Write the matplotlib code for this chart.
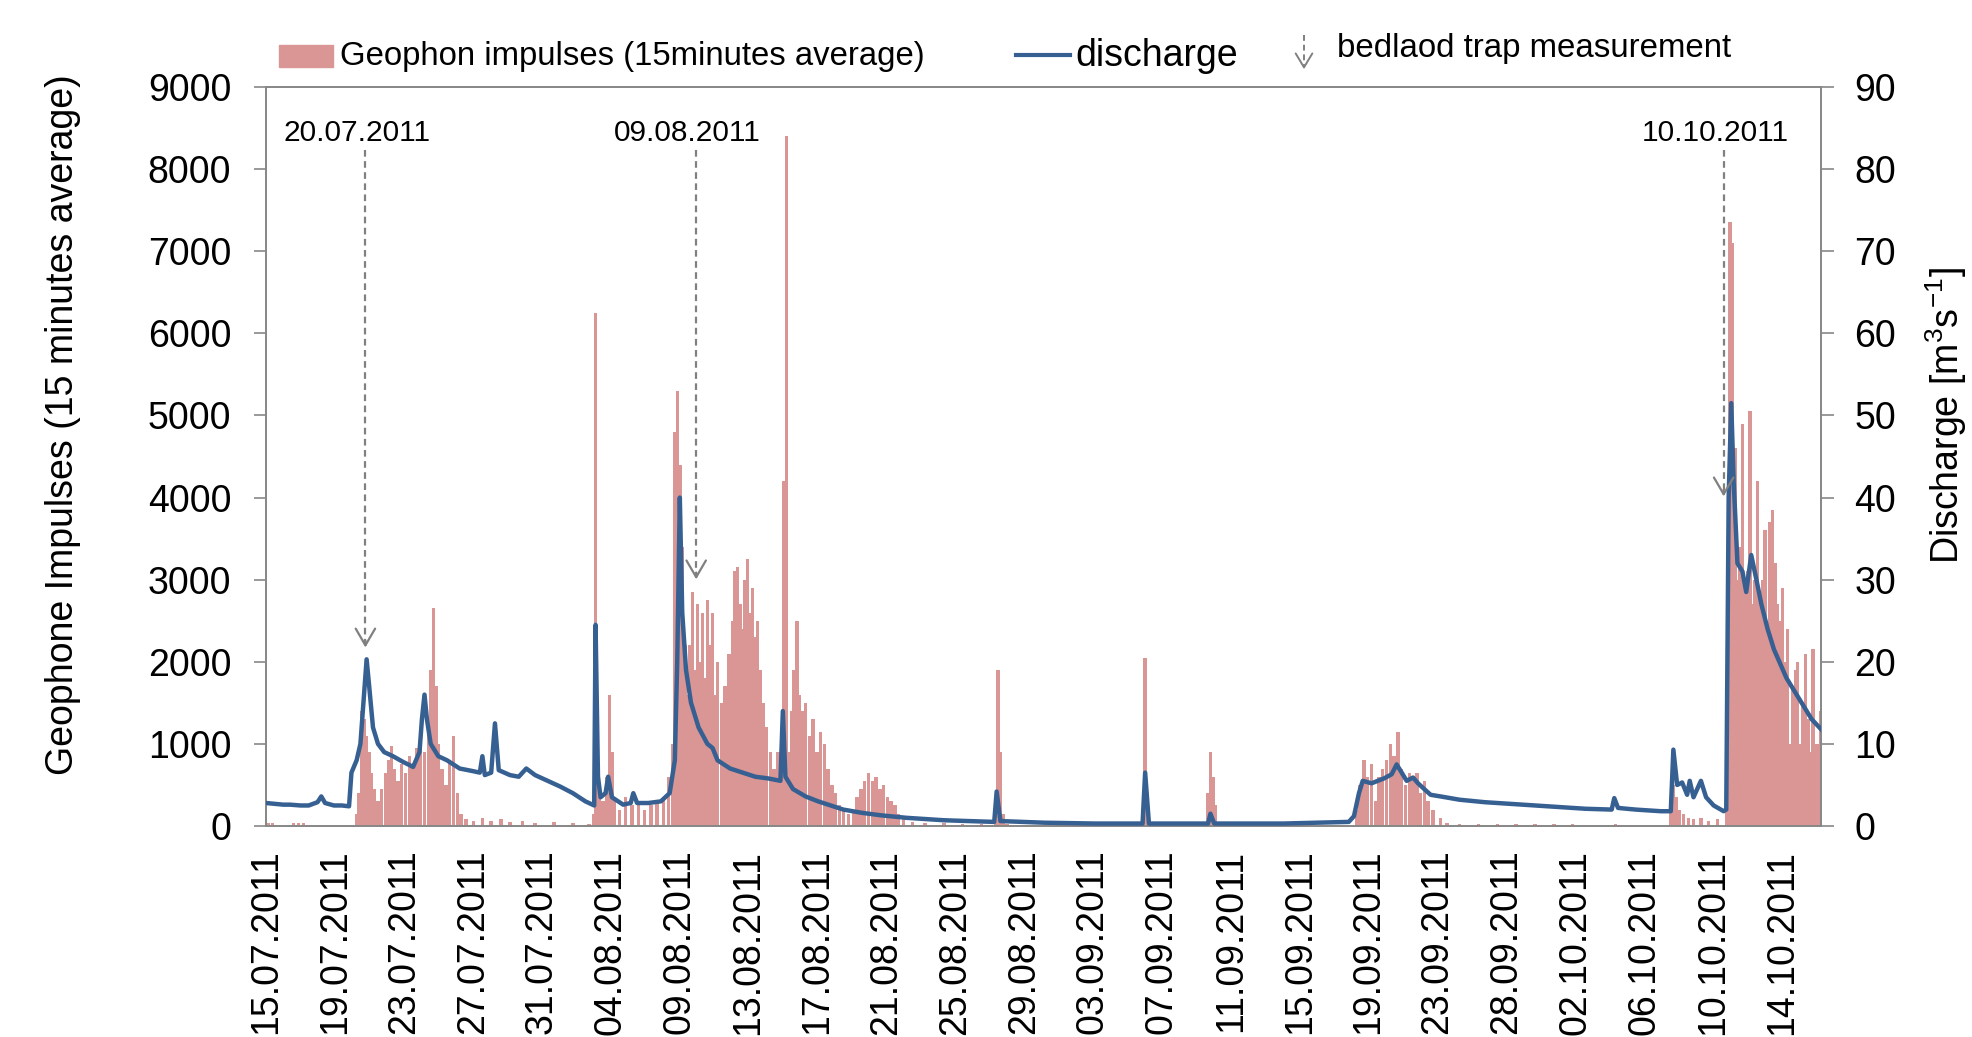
import matplotlib
matplotlib.use('Agg')
import matplotlib.pyplot as plt
import numpy as np
from matplotlib.lines import Line2D
from matplotlib.patches import Rectangle

plt.rcParams['font.family'] = ['Liberation Sans', 'DejaVu Sans']
plt.rcParams['mathtext.default'] = 'regular'

# ---------------- data ----------------
tick_labels = ['15.07.2011', '19.07.2011', '23.07.2011', '27.07.2011', '31.07.2011',
               '04.08.2011', '09.08.2011', '13.08.2011', '17.08.2011', '21.08.2011',
               '25.08.2011', '29.08.2011', '03.09.2011', '07.09.2011', '11.09.2011',
               '15.09.2011', '19.09.2011', '23.09.2011', '28.09.2011', '02.10.2011',
               '06.10.2011', '10.10.2011', '14.10.2011']

# record time (days along the plotted record, one label every 4 days)
q_t = [0.00, 0.50, 1.00, 1.39, 2.00, 2.48, 2.99, 3.21, 3.43, 3.94, 4.40, 4.82, 4.96, 5.26,
       5.48, 5.69, 5.84, 5.99, 6.21, 6.50, 6.86, 7.37, 7.96, 8.54, 8.91, 9.05, 9.20, 9.34,
       9.56, 10.00, 10.51, 11.24, 11.97, 12.41, 12.56, 12.70, 13.07, 13.29, 13.51, 14.16,
       14.67, 15.11, 15.62, 16.35, 17.08, 17.81, 18.54, 19.05, 19.13, 19.27, 19.42, 19.71,
       19.86, 20.08, 20.73, 21.17, 21.32, 21.54, 22.19, 22.92, 23.43, 23.73, 23.87, 24.02,
       24.16, 24.38, 24.67, 25.11, 25.62, 25.92, 26.21, 26.94, 27.67, 28.40, 29.13, 29.86,
       30.00, 30.15, 30.59, 31.32, 32.05, 32.78, 33.51, 34.60, 35.70, 37.16, 39.35, 42.27,
       42.41, 42.63, 45.19, 48.11, 50.88, 51.03, 51.25, 54.68, 54.82, 55.04, 59.06, 62.85,
       63.15, 63.44, 63.66, 64.17, 64.53, 64.90, 65.34, 65.63, 65.92, 66.21, 66.58, 66.87,
       67.23, 67.60, 68.18, 69.28, 70.74, 72.20, 73.66, 75.12, 76.58, 78.11, 78.26, 78.48,
       79.50, 80.96, 81.54, 81.69, 81.91, 82.20, 82.49, 82.64, 82.86, 83.29, 83.59, 84.03,
       84.61, 84.76, 84.90, 85.05, 85.19, 85.41, 85.70, 85.92, 86.21, 86.51, 86.80, 87.16,
       87.53, 88.26, 88.99, 89.72, 90.30]
q_val = [2.8, 2.7, 2.6, 2.6, 2.5, 2.5, 2.9, 3.6, 2.8, 2.5, 2.5, 2.4, 6.5, 8.0,
         10.0, 16.0, 20.3, 17.0, 12.0, 10.0, 9.0, 8.5, 7.8, 7.2, 9.0, 13.0, 16.0, 13.0,
         10.0, 8.5, 8.0, 7.0, 6.7, 6.5, 8.5, 6.2, 6.5, 12.5, 6.8, 6.2,
         6.0, 7.0, 6.2, 5.5, 4.8, 4.0, 3.0, 2.5, 24.5, 6.0, 3.5, 4.0,
         6.0, 3.5, 2.6, 2.8, 4.0, 2.8, 2.8, 3.0, 4.0, 8.0, 20.0, 40.0,
         26.0, 19.0, 15.0, 12.0, 10.0, 9.5, 8.0, 7.0, 6.5, 6.0, 5.8, 5.5,
         14.0, 6.0, 4.5, 3.6, 3.0, 2.5, 2.0, 1.6, 1.3, 1.0, 0.7, 0.5,
         4.2, 0.6, 0.4, 0.3, 0.3, 6.5, 0.3, 0.3, 1.5, 0.3, 0.3, 0.5,
         1.2, 4.0, 5.5, 5.2, 5.5, 5.8, 6.3, 7.5, 6.5, 5.5, 5.9, 5.2,
         4.5, 3.8, 3.6, 3.2, 2.9, 2.7, 2.5, 2.3, 2.1, 2.0, 3.4, 2.2,
         2.0, 1.8, 1.8, 9.3, 5.0, 5.3, 3.8, 5.5, 3.5, 5.5, 3.5, 2.5,
         1.8, 2.0, 40.0, 51.5, 42.0, 32.0, 31.0, 28.5, 33.0, 30.0, 27.0, 24.0,
         21.5, 18.0, 15.5, 13.0, 11.7]

g_t = [0.15, 0.37, 1.61, 1.90, 2.19, 5.26, 5.40, 5.55, 5.69, 5.84, 5.99, 6.13, 6.28, 6.50,
       6.72, 6.94, 7.15, 7.30, 7.45, 7.67, 7.88, 8.10, 8.32, 8.54, 8.76, 8.98, 9.20, 9.42,
       9.56, 9.71, 9.86, 10.00, 10.22, 10.44, 10.66, 10.88, 11.10, 11.32, 11.61, 12.05,
       12.56, 13.07, 13.65, 14.16, 14.89, 15.62, 16.72, 17.81, 18.76, 19.05, 19.13, 19.20,
       19.35, 19.56, 19.78, 19.93, 20.08, 20.22, 20.51, 20.88, 21.24, 21.61, 21.97, 22.34,
       22.70, 23.07, 23.36, 23.58, 23.73, 23.87, 24.02, 24.16, 24.31, 24.45, 24.60, 24.75,
       24.89, 25.04, 25.19, 25.33, 25.48, 25.62, 25.77, 25.92, 26.06, 26.21, 26.43, 26.65,
       26.87, 27.08, 27.23, 27.38, 27.52, 27.67, 27.81, 27.96, 28.11, 28.25, 28.40, 28.54,
       28.69, 28.84, 29.05, 29.27, 29.49, 29.71, 29.93, 30.08, 30.22, 30.37, 30.51, 30.66,
       30.81, 30.95, 31.10, 31.32, 31.54, 31.76, 31.97, 32.19, 32.41, 32.63, 32.85, 33.07,
       33.29, 33.51, 33.80, 34.09, 34.31, 34.53, 34.75, 34.97, 35.19, 35.41, 35.63, 35.85,
       36.06, 36.28, 36.50, 36.72, 37.01, 37.52, 38.25, 39.35, 40.44, 41.54, 42.34, 42.49,
       42.63, 42.78, 43.00, 50.88, 51.03, 51.17, 54.68, 54.82, 54.97, 55.12, 63.29, 63.51,
       63.73, 63.95, 64.17, 64.39, 64.61, 64.82, 65.04, 65.26, 65.48, 65.70, 65.92, 66.14,
       66.36, 66.58, 66.80, 67.02, 67.23, 67.45, 67.74, 68.18, 68.55, 69.28, 70.37, 71.47,
       72.56, 73.66, 74.75, 75.85, 78.33, 81.54, 81.69, 81.84, 82.05, 82.27, 82.56, 82.86,
       83.29, 83.73, 84.24, 84.76, 84.90, 84.97, 85.12, 85.27, 85.41, 85.56, 85.70, 85.85,
       85.99, 86.14, 86.29, 86.43, 86.58, 86.72, 86.87, 87.02, 87.16, 87.31, 87.45, 87.60,
       87.75, 87.89, 88.04, 88.19, 88.33, 88.48, 88.62, 88.77, 88.91, 89.06, 89.21, 89.35,
       89.50, 89.64, 89.79, 89.94, 90.08, 90.23]
g_val = [40, 40, 40, 40, 40, 150, 400, 1400, 1300, 1100, 900, 650, 450, 300,
         450, 650, 800, 980, 700, 550, 750, 650, 850, 750, 950, 1050, 900, 1250,
         1900, 2650, 1700, 1000, 700, 500, 800, 1100, 400, 150, 80, 60,
         100, 60, 80, 50, 60, 40, 50, 40, 30, 150, 6250, 1500,
         400, 300, 600, 1600, 900, 300, 200, 350, 250, 300, 200, 250,
         300, 350, 600, 1000, 4800, 5300, 4400, 3400, 2200, 1600, 2200, 2850,
         1900, 2700, 2000, 2600, 1800, 2750, 2200, 2600, 1600, 2000, 1500, 1700,
         2100, 2500, 3100, 3150, 2700, 2400, 3000, 3250, 2600, 2900, 2300, 2500,
         1900, 1500, 1200, 900, 700, 900, 1200, 4200, 8400, 900, 1400, 1900,
         2500, 1600, 1400, 1500, 1100, 1300, 900, 1150, 1000, 700, 500, 400,
         250, 200, 150, 200, 350, 450, 550, 650, 550, 600, 450, 500,
         350, 300, 250, 150, 80, 50, 40, 40, 30, 30, 300, 1900,
         900, 150, 30, 100, 2050, 400, 400, 900, 600, 250, 200, 500,
         800, 600, 750, 300, 600, 700, 800, 1000, 850, 1150, 700, 500,
         650, 600, 650, 400, 550, 300, 200, 100, 40, 30, 30, 30,
         30, 30, 30, 30, 30, 200, 500, 350, 200, 150, 100, 80,
         100, 60, 80, 200, 3800, 7350, 7100, 4600, 3000, 3400, 4900, 3000,
         3100, 5050, 2700, 3000, 4200, 2800, 3000, 3600, 2500, 3700, 3850, 3200,
         2700, 2500, 2900, 2000, 2400, 1000, 1700, 1900, 2000, 1000, 1500, 2100,
         1300, 900, 2150, 1000, 1000, 1400]

meas_labels = ['20.07.2011', '09.08.2011', '10.10.2011']
meas_t = [5.77, 24.97, 84.61]
meas_q = [21.4, 29.7, 39.8]

# ---------------- styling ----------------
PINK = '#D99694'
BLUE = '#376092'
GRAY = '#888888'
W, H = 1972, 1037

fig = plt.figure(figsize=(W / 100, H / 100), dpi=100)
L, R, T, B = 266, 1821, 87, 826
ax = fig.add_axes([L / W, 1 - B / H, (R - L) / W, (B - T) / H])
ax2 = ax.twinx()

ax.bar(g_t, g_val, width=0.2, color=PINK, linewidth=0, align='center')
ax2.plot(q_t, q_val, color=BLUE, lw=3.2, solid_joinstyle='round', zorder=3)

ax.set_xlim(0, 90.26)
ax.set_ylim(0, 9000)
ax2.set_ylim(0, 90)
ax.set_yticks(np.arange(0, 9001, 1000))
ax2.set_yticks(np.arange(0, 91, 10))
ax.set_xticks(np.arange(len(tick_labels)) * 4)
ax.set_xticklabels(tick_labels, rotation=90, va='top', ha='center')

for a in (ax, ax2):
    for s in a.spines.values():
        s.set_color(GRAY)
        s.set_linewidth(1.3)
ax.tick_params(axis='y', direction='out', length=9, width=1.2, color=GRAY,
               labelsize=27, pad=16)
ax2.tick_params(axis='y', direction='out', length=9, width=1.2, color=GRAY,
                labelsize=27, pad=15)
ax.tick_params(axis='x', length=0, labelsize=27, pad=17)

# axis titles
fig.text(63 / W, 1 - 425 / H, 'Geophone Impulses (15 minutes average)', rotation=90,
         ha='center', va='center', fontsize=27)
fig.text(1969 / W, 1 - 416 / H, 'Discharge [m$^3$s$^{-1}$]', rotation=90,
         ha='right', va='center', fontsize=27)

# bedload trap annotations
for lab, t, q in zip(meas_labels, meas_t, meas_q):
    ax2.plot([t, t], [82.3, q + 0.6], ls=(0, (3, 2)), color='#808080', lw=1.6, zorder=4)
    ax2.annotate('', xy=(t, q), xytext=(t, q + 1.5),
                 arrowprops=dict(arrowstyle='->,head_length=0.6,head_width=0.35',
                                 color='#808080', lw=1.6, mutation_scale=20), zorder=4)
    ax2.text(t - 0.5, 84.4, lab, ha='center', va='center', fontsize=21.5, zorder=5)

# legend (drawn manually at the top)
fig.patches.append(Rectangle((279 / W, 1 - 67 / H), 54 / W, 22 / H, color=PINK,
                             transform=fig.transFigure, figure=fig))
fig.text(340 / W, 1 - 56 / H, 'Geophon impulses (15minutes average)', ha='left',
         va='center', fontsize=23.7)
fig.lines.append(Line2D([1016 / W, 1070 / W], [1 - 55 / H, 1 - 55 / H], color=BLUE, lw=3.0,
                        transform=fig.transFigure, figure=fig))
fig.text(1075 / W, 1 - 56 / H, 'discharge', ha='left', va='center', fontsize=27)
fig.lines.append(Line2D([1304 / W, 1304 / W], [1 - 35 / H, 1 - 64 / H], color='#808080',
                        lw=1.4, ls=(0, (3, 2)), transform=fig.transFigure, figure=fig))
fig.add_artist(matplotlib.patches.FancyArrowPatch(
    (1304 / W, 1 - 62 / H), (1304 / W, 1 - 72 / H), transform=fig.transFigure,
    arrowstyle='->,head_length=0.5,head_width=0.3', mutation_scale=20,
    color='#808080', lw=1.4))
fig.text(1337 / W, 1 - 48 / H, 'bedlaod trap measurement', ha='left', va='center',
         fontsize=23.8)

fig.savefig('out.png', dpi=100)
